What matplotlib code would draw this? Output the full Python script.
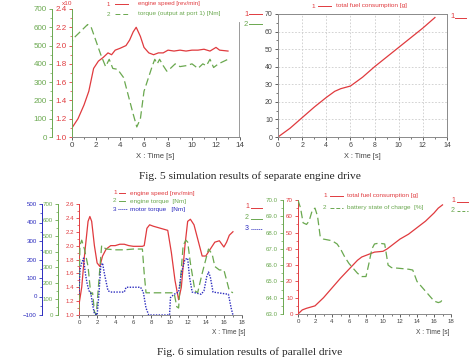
import matplotlib
matplotlib.use('Agg')
import matplotlib.pyplot as plt
from matplotlib.lines import Line2D
from matplotlib.ticker import MultipleLocator

W, H = 472, 360
RED = '#e03a3e'
GREEN = '#6aa84f'
BLUE = '#2b2bbf'
GRAY = '#8a8a8a'
TXT = '#444444'
plt.rcParams['font.family'] = ['Liberation Sans', 'DejaVu Sans']

# ---------------- Fig. 5 left: engine speed (x10^3 rev/min) and torque (Nm)
t5_speed = [0, 0.5, 1, 1.4, 1.8, 2.2, 2.6, 3, 3.3, 3.6, 4, 4.5, 4.8, 5.1, 5.35, 5.7, 6, 6.4, 6.8,
            7.2, 7.6, 8, 8.5, 9, 9.5, 10, 10.5, 11, 11.5, 12, 12.3, 13]
speed5 = [1.1, 1.2, 1.35, 1.5, 1.75, 1.83, 1.87, 1.92, 1.9, 1.95, 1.97, 2.0, 2.06, 2.15, 2.2, 2.1, 1.98,
          1.92, 1.9, 1.92, 1.92, 1.95, 1.94, 1.95, 1.94, 1.95, 1.95, 1.96, 1.94, 1.98, 1.95, 1.94]
t5_torque = [0, 0.05, 0.6, 1.3, 1.6, 2, 2.4, 2.8, 3.1, 3.4, 3.8, 4.3, 4.7, 5.1, 5.4, 5.7, 6, 6.3, 6.7,
             6.9, 7.1, 7.3, 7.6, 7.9, 8.2, 8.6, 9, 9.5, 10, 10.5, 10.9, 11.2, 11.5, 11.8, 12.2, 13]
torque5 = [490, 535, 570, 615, 600, 525, 450, 385, 425, 375, 370, 325, 225, 125, 55, 100, 250, 310, 390,
           425, 400, 425, 390, 360, 375, 400, 385, 390, 400, 375, 400, 390, 425, 380, 400, 425]

# ---------------- Fig. 5 right: total fuel consumption (g)
t5_fuel = [0, 1, 2, 3, 4, 4.7, 5.2, 6, 7, 8, 9, 10, 11, 12, 13]
fuel5 = [0, 5, 11, 17, 22.5, 26, 27.5, 29, 34, 40, 45.5, 51, 56.5, 62, 68]

# ---------------- Fig. 6 left
t6_speed = [0, 0.3, 0.6, 1, 1.2, 1.4, 1.7, 2, 2.3, 2.6, 3, 3.5, 4, 4.5, 5, 5.5, 6, 7, 7.2, 7.5, 7.8,
            8.2, 9, 9.8, 10.2, 10.6, 11, 11.3, 11.7, 12, 12.3, 12.7, 13, 13.6, 14, 14.5, 15, 15.5, 16,
            16.3, 16.6, 17]
speed6 = [1.15, 1.4, 1.85, 2.35, 2.42, 2.35, 2.0, 1.75, 1.7, 1.85, 1.95, 2.0, 2.0, 2.02, 2.02, 2.0,
          1.99, 1.99, 2.0, 2.25, 2.3, 2.28, 2.25, 2.22, 1.9, 1.5, 1.22, 1.4, 2.0, 2.35, 2.38, 2.3, 2.15,
          1.85, 1.85, 1.95, 2.05, 2.07, 1.98, 2.05, 2.15, 2.2]
t6_etorque = [0, 0.1, 0.3, 0.6, 1, 1.3, 1.5, 1.7, 1.9, 2.2, 2.5, 2.8, 3, 4, 5, 6, 7, 7.2, 7.4, 8, 9,
              10, 10.5, 10.8, 11, 11.2, 11.5, 11.8, 12, 12.3, 12.8, 13.1, 13.6, 14, 14.3, 14.7, 15,
              15.5, 16, 16.3, 16.6, 17]
etorque6 = [22, 438, 472, 416, 306, 131, 140, 22, 0, 219, 438, 424, 416, 411, 411, 416, 416, 262, 140,
            140, 140, 140, 140, 52, 44, 219, 438, 472, 460, 328, 153, 140, 262, 350, 416, 385, 306,
            284, 284, 219, 153, 140]
t6_mtorque = [0, 0.1, 0.3, 0.5, 0.7, 0.9, 1.1, 1.3, 1.5, 1.7, 2, 2.2, 2.4, 2.6, 2.8, 3.2, 3.5, 5,
              5.2, 6.8, 7.1, 7.4, 7.7, 10, 10.1, 10.5, 11, 11.3, 11.7, 12, 12.2, 12.5, 13.5, 13.8,
              14.1, 14.3, 14.5, 14.8, 16.5, 16.8, 17]
mtorque6 = [12, 144, 181, 207, 125, 69, 31, 20, -44, -92, -100, 12, 163, 181, 125, 31, 24, 24, 50, 50,
            24, -62, -100, -100, -6, 12, 24, 125, 200, 207, 106, 24, 12, 31, 106, 132, 106, 24, 12,
            -62, -100]

# ---------------- Fig. 6 right
t6_fuel = [0, 0.5, 1, 2, 3, 4, 5, 6, 7, 7.5, 8, 9, 10, 10.5, 11, 12, 13, 14, 15, 16, 16.5, 17]
fuel6 = [0, 2.5, 3.5, 5, 10, 16, 22, 27.5, 33, 35, 36, 38, 38.5, 40, 42, 46, 49, 53, 57, 62, 65, 67]
t6_soc = [0, 0.3, 0.6, 1, 1.3, 1.7, 2, 2.3, 2.6, 3, 4, 4.6, 5, 5.5, 6, 6.5, 7, 7.5, 8, 8.3, 8.7, 9,
          9.5, 10.2, 10.6, 11, 12, 13, 13.5, 14, 15, 15.5, 16, 16.5, 16.8, 17]
soc6 = [70.0, 69.5, 68.6, 68.5, 68.7, 69.4, 69.5, 69.0, 67.8, 67.6, 67.5, 67.3, 67.0, 66.5, 66.1,
        65.8, 65.5, 65.3, 65.3, 66.0, 67.0, 67.3, 67.35, 67.3, 66.0, 65.85, 65.8, 65.75, 65.7, 65.0,
        64.4, 64.1, 63.8, 63.7, 63.75, 63.9]

fig = plt.figure(figsize=(W / 100, H / 100), dpi=100)
fig.patch.set_facecolor('white')


def add_ax(l, t, r, b):
    return fig.add_axes([l / W, 1 - b / H, (r - l) / W, (b - t) / H])


def style(ax, color, size=5.3):
    ax.tick_params(axis='both', labelsize=size, length=2.5, width=0.6, pad=1.2, colors=color)
    ax.tick_params(which='minor', length=1.3, width=0.5, colors=color)


def parasite(ax, offset, color, size):
    a = ax.twinx()
    for s in ('right', 'top', 'bottom'):
        a.spines[s].set_visible(False)
    a.spines['left'].set_visible(True)
    a.spines['left'].set_position(('axes', offset))
    a.spines['left'].set_color(color)
    a.spines['left'].set_linewidth(0.7)
    a.yaxis.set_ticks_position('left')
    a.yaxis.set_label_position('left')
    style(a, color, size)
    return a


def ftext(x, y, s, color, size=4.6, ha='left', **kw):
    fig.text(x / W, 1 - y / H, s, color=color, fontsize=size, ha=ha, va='center', **kw)


def fline(x0, x1, y, color, ls='-', lw=0.7):
    fig.add_artist(Line2D([x0 / W, x1 / W], [1 - y / H, 1 - y / H], transform=fig.transFigure,
                          color=color, ls=ls, lw=lw))


# ============ Fig 5 left
S1 = 5.8
ax = add_ax(72, 9, 240, 137)
for s in ('top', 'right'):
    ax.spines[s].set_visible(False)
ax.spines['left'].set_color(GREEN)
ax.spines['bottom'].set_color(GRAY)
for s in ax.spines.values():
    s.set_linewidth(0.7)
ax.plot(t5_speed, speed5, color=RED, lw=0.9)
ax.set_xlim(0, 14)
ax.set_ylim(1.0, 2.4)
ax.set_xticks(range(0, 15, 2))
ax.xaxis.set_minor_locator(MultipleLocator(1))
ax.yaxis.set_minor_locator(MultipleLocator(0.1))
ax.set_yticks([1.0, 1.2, 1.4, 1.6, 1.8, 2.0, 2.2, 2.4])
ax.set_yticklabels(['1.0', '1.2', '1.4', '1.6', '1.8', '2.0', '2.2', '2.4'])
style(ax, RED, S1)
ax.tick_params(axis='x', colors=TXT)
ax.tick_params(axis='x', which='minor', colors=TXT)
a2 = parasite(ax, (52 - 72) / 168, GREEN, S1)
a2.plot(t5_torque, torque5, color=GREEN, lw=0.9, dashes=(6, 3))
a2.set_ylim(0, 700)
a2.set_yticks(range(0, 701, 100))
a2.yaxis.set_minor_locator(MultipleLocator(50))
ftext(72, 3.5, 'x10', RED, size=4.6, ha='right')
ftext(107, 4, '1', RED, size=4.4)
fline(115, 128, 4, RED)
ftext(138, 4, 'engine speed [rev/min]', RED, size=4.4)
ftext(107, 14, '2', GREEN)
fline(115, 128, 14, GREEN, ls=(0, (5, 3)))
ftext(138, 14, 'torque (output at port 1) [Nm]', GREEN)
ftext(155, 157, 'X : Time [s]', TXT, size=5.5, ha='center')

# ============ Fig 5 right
S2 = 5.0
ax = add_ax(278, 14, 447, 137)
ax.plot(t5_fuel, fuel5, color=RED, lw=0.9)
ax.set_xlim(0, 14)
ax.set_ylim(0, 70)
ax.set_xticks(range(0, 15, 2))
ax.set_yticks(range(0, 71, 10))
ax.xaxis.set_minor_locator(MultipleLocator(1))
ax.yaxis.set_minor_locator(MultipleLocator(5))
ax.grid(True, color='#cccccc', ls=(0, (2, 2)), lw=0.6)
for s in ax.spines.values():
    s.set_color(GRAY)
    s.set_linewidth(0.7)
style(ax, TXT, S2)
ftext(311, 6, '1', RED)
fline(318, 331, 6, RED)
ftext(336, 6, 'total fuel consumption [g]', RED)
ftext(244, 14, '1', RED, size=5.5)
fline(249, 262, 14, RED)
ftext(244, 24, '2', GREEN, size=5.5)
fline(249, 262, 24, GREEN)
ftext(450, 17, '1', RED, size=5.5)
fline(455, 466, 18, RED)
ftext(362, 157, 'X : Time [s]', TXT, size=5.3, ha='center')
fig.add_artist(Line2D([239 / W, 239 / W], [1 - 22 / H, 1 - 137 / H], transform=fig.transFigure,
                      color=GRAY, lw=0.6))

# ============ Fig 6 left
S3 = 4.4
ax = add_ax(79, 204, 242, 315)
for s in ('top', 'right'):
    ax.spines[s].set_visible(False)
ax.spines['left'].set_color(RED)
ax.spines['bottom'].set_color(GRAY)
for s in ax.spines.values():
    s.set_linewidth(0.7)
ax.plot(t6_speed, speed6, color=RED, lw=0.9)
ax.set_xlim(0, 18)
ax.set_ylim(1.0, 2.6)
ax.set_xticks(range(0, 19, 2))
ax.xaxis.set_minor_locator(MultipleLocator(1))
ax.set_yticks([1.0, 1.2, 1.4, 1.6, 1.8, 2.0, 2.2, 2.4, 2.6])
ax.set_yticklabels(['1.0', '1.2', '1.4', '1.6', '1.8', '2.0', '2.2', '2.4', '2.6'])
ax.yaxis.set_minor_locator(MultipleLocator(0.1))
style(ax, RED, S3)
ax.tick_params(axis='x', colors=TXT)
ax.tick_params(axis='x', which='minor', colors=TXT)
g = parasite(ax, (58 - 79) / 163, GREEN, S3)
g.plot(t6_etorque, etorque6, color=GREEN, lw=0.9, dashes=(6, 3))
g.set_ylim(0, 700)
g.set_yticks(range(0, 701, 100))
g.yaxis.set_minor_locator(MultipleLocator(50))
b = parasite(ax, (42 - 79) / 163, BLUE, S3)
b.plot(t6_mtorque, mtorque6, color=BLUE, lw=1.0, ls=(0, (1, 1)))
b.set_ylim(-100, 500)
b.set_yticks(range(-100, 501, 100))
b.yaxis.set_minor_locator(MultipleLocator(50))
ftext(113, 193, '1', RED)
fline(119, 125, 193, RED)
ftext(130, 193, 'engine speed [rev/min]', RED)
ftext(113, 201, '2', GREEN)
fline(119, 125, 201, GREEN)
ftext(130, 201, 'engine torque  [Nm]', GREEN)
ftext(113, 209, '3', BLUE)
fline(118, 127, 209, BLUE, ls=(0, (1, 1)))
ftext(130, 209, 'motor torque   [Nm]', BLUE)
ftext(229, 332, 'X : Time [s]', TXT, size=4.8, ha='center')

# ============ Fig 6 right
S4 = 4.4
ax = add_ax(298, 200, 451, 314)
for s in ('top', 'right'):
    ax.spines[s].set_visible(False)
ax.spines['left'].set_color(RED)
ax.spines['bottom'].set_color(GRAY)
for s in ax.spines.values():
    s.set_linewidth(0.7)
ax.plot(t6_fuel, fuel6, color=RED, lw=0.9)
ax.set_xlim(0, 18)
ax.set_ylim(0, 70)
ax.set_xticks(range(0, 19, 2))
ax.xaxis.set_minor_locator(MultipleLocator(1))
ax.set_yticks(range(0, 71, 10))
ax.yaxis.set_minor_locator(MultipleLocator(5))
style(ax, RED, S4)
ax.tick_params(axis='x', colors=TXT)
ax.tick_params(axis='x', which='minor', colors=TXT)
g = parasite(ax, (283 - 298) / 153, GREEN, S4)
g.plot(t6_soc, soc6, color=GREEN, lw=0.9, dashes=(6, 3))
g.set_ylim(63, 70)
g.set_yticks(range(63, 71))
g.set_yticklabels(['%.1f' % v for v in range(63, 71)])
g.yaxis.set_minor_locator(MultipleLocator(0.5))
ftext(323, 196, '1', RED)
fline(330, 343, 196, RED)
ftext(347, 196, 'total fuel consumption [g]', RED)
ftext(323, 208, '2', GREEN)
fline(330, 343, 208, GREEN, ls=(0, (4, 2)))
ftext(347, 208, 'battery state of charge  [%]', GREEN)
ftext(245, 207, '1', RED, size=5.0)
fline(251, 262, 208, RED)
ftext(245, 218, '2', GREEN, size=5.0)
fline(251, 262, 219, GREEN)
ftext(245, 228, '3', BLUE, size=5.0)
fline(251, 262, 229, BLUE, ls=(0, (1, 1)))
ftext(451, 201, '1', RED, size=5.0)
fline(457, 468, 202, RED)
ftext(451, 210, '2', GREEN, size=5.0)
fline(457, 468, 211, GREEN, ls=(0, (3, 2)))
ftext(433, 332, 'X : Time [s]', TXT, size=4.8, ha='center')

# ============ captions
fig.text(250 / W, 1 - 176 / H, 'Fig. 5 simulation results of separate engine drive', fontsize=8.2,
         family=['Liberation Serif', 'DejaVu Serif'], ha='center', va='center', color='#222222')
fig.text(250 / W, 1 - 352 / H, 'Fig. 6 simulation results of parallel drive', fontsize=8.2,
         family=['Liberation Serif', 'DejaVu Serif'], ha='center', va='center', color='#222222')

fig.savefig('out.png', dpi=100, facecolor='white')
